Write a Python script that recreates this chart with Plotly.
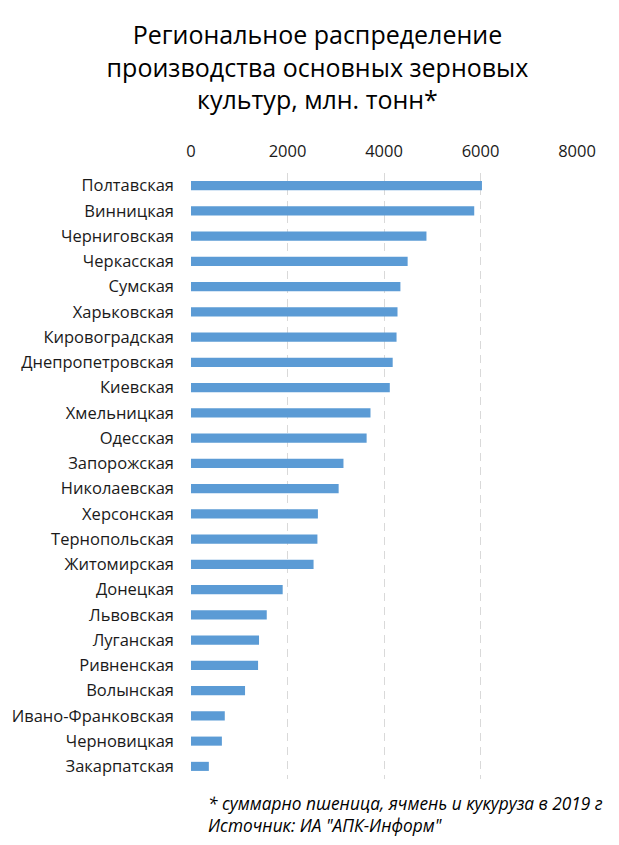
import plotly.graph_objects as go

# Регионы сверху вниз, как на исходной диаграмме
regions = [
    "Полтавская", "Винницкая", "Черниговская", "Черкасская", "Сумская",
    "Харьковская", "Кировоградская", "Днепропетровская", "Киевская",
    "Хмельницкая", "Одесская", "Запорожская", "Николаевская", "Херсонская",
    "Тернопольская", "Житомирская", "Донецкая", "Львовская", "Луганская",
    "Ривненская", "Волынская", "Ивано-Франковская", "Черновицкая",
    "Закарпатская",
]
# Производство, тыс. тонн
production = [
    6030, 5870, 4880, 4490, 4340,
    4280, 4260, 4180, 4120,
    3720, 3640, 3160, 3060, 2630,
    2620, 2540, 1900, 1570, 1410,
    1390, 1120, 700, 640,
    370,
]
x_ticks = [0, 2000, 4000, 6000, 8000]

title_text = ("Региональное распределение<br>производства основных зерновых"
              "<br>культур, млн. тонн*")
note_text = ("* суммарно пшеница, ячмень и кукуруза в 2019 г"
             "<br>Источник: ИА \"АПК-Информ\"")

FONT = "Open Sans, sans-serif"
BAR = "#5B9BD5"
GRID = "#D9D9D9"
TEXT = "#1A1A1A"

fig = go.Figure()
fig.add_trace(go.Bar(
    x=production, y=regions, orientation="h",
    marker=dict(color=BAR, line=dict(width=0)),
    hovertemplate="%{y}: %{x}<extra></extra>",
))

# the page body adds an 8px offset, so margins are shifted to compensate
fig.update_layout(
    width=619, height=845,
    margin=dict(l=183, r=50, t=165, b=74),
    paper_bgcolor="white", plot_bgcolor="white",
    font=dict(family=FONT, size=15, color=TEXT),
    bargap=0.64,
    showlegend=False,
    title=dict(text=title_text, x=0.5, xanchor="center",
               y=0.957, yanchor="top",
               font=dict(family=FONT, size=25, color="#000000")),
)
fig.update_xaxes(
    side="top", range=[0, 8000], tickvals=x_ticks, automargin=False,
    showgrid=True, gridcolor=GRID, gridwidth=1, griddash="8px,6px",
    zeroline=False, showline=False, ticks="", ticklabelstandoff=12,
    tickfont=dict(size=16.5, color=TEXT),
)
fig.update_yaxes(
    autorange="reversed", showgrid=False, zeroline=False, showline=False,
    ticks="", ticklabelstandoff=16, automargin=False,
    tickfont=dict(size=16.5, color=TEXT),
)
fig.add_annotation(
    text=note_text, xref="paper", yref="paper", x=0.04, y=-0.018,
    xanchor="left", yanchor="top", align="left", showarrow=False,
    font=dict(family=FONT, size=17.3, color="#000000", style="italic"),
)

fig.write_html("out.html")
